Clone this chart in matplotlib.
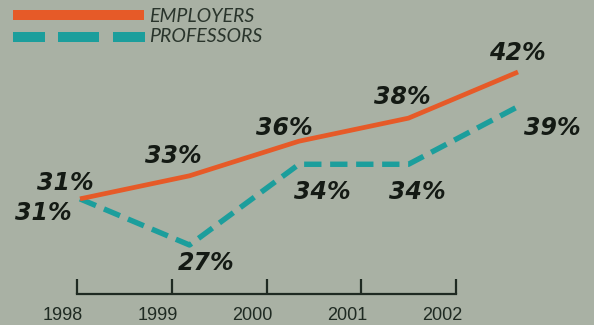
import matplotlib
matplotlib.use("Agg")
import matplotlib.pyplot as plt
from matplotlib.lines import Line2D
from matplotlib.transforms import ScaledTranslation

# data
years = [1998, 1999, 2000, 2001, 2002]
employers = [31, 33, 36, 38, 42]
professors = [31, 27, 34, 34, 39]
series_names = ["EMPLOYERS", "PROFESSORS"]

BG = "#a9b1a4"
ORANGE = "#e65a28"
TEAL = "#1c9e9c"
INK = "#141a14"
AXIS_INK = "#1f2a22"

# label offsets (pixels) from each point to the label centre
emp_offsets = [(-15, 16), (-16, 20), (-15, 13), (-6, 21), (-1, 19)]
prof_offsets = [(-37, -14), (17, -18), (23, -28), (9, -28), (34, -21)]

W, H = 594, 325
fig = plt.figure(figsize=(W / 100, H / 100), dpi=100, facecolor=BG)

# main plotting area
ax = fig.add_axes([80 / W, 80 / H, 438 / W, 173 / H])
ax.set_xlim(years[0], years[-1])
ax.set_ylim(27, 42)
ax.axis("off")

ax.plot(years, employers, color=ORANGE, lw=3.4, clip_on=False,
        solid_joinstyle="miter", solid_capstyle="butt", zorder=3)
ax.plot(years, professors, color=TEAL, lw=3.9, clip_on=False,
        dashes=(3.2, 1.6), dash_capstyle="butt", zorder=2)

label_font = dict(family="DejaVu Sans", weight="bold", style="italic",
                  size=17, color=INK, ha="center", va="center")
for x, v, off in zip(years, employers, emp_offsets):
    ax.annotate(f"{v}%", (x, v), xytext=off, textcoords="offset pixels",
                annotation_clip=False, **label_font)
for x, v, off in zip(years, professors, prof_offsets):
    ax.annotate(f"{v}%", (x, v), xytext=off, textcoords="offset pixels",
                annotation_clip=False, **label_font)

# year axis sits a little offset from the data points, as in the original
tax = fig.add_axes([77 / W, 31 / H, 379 / W, 0.05])
tax.set_xlim(years[0], years[-1])
tax.patch.set_visible(False)
for side in ["top", "left", "right"]:
    tax.spines[side].set_visible(False)
tax.spines["bottom"].set_color(AXIS_INK)
tax.spines["bottom"].set_linewidth(1.6)
tax.set_yticks([])
tax.set_xticks(years)
tax.set_xticklabels([str(y) for y in years], family="Liberation Sans",
                    fontsize=13, color=AXIS_INK)
tax.tick_params(axis="x", direction="in", length=11, width=1.6,
                color=AXIS_INK, pad=9)
for lab in tax.get_xticklabels():
    lab.set_transform(lab.get_transform() + ScaledTranslation(-0.14, 0, fig.dpi_scale_trans))

# legend drawn by hand: long thick swatches
def px(x, y):
    return x / W, 1 - y / H

fig.add_artist(Line2D([px(13, 15)[0], px(144, 15)[0]], [px(13, 15)[1]] * 2,
                      color=ORANGE, lw=7.2, solid_capstyle="butt"))
fig.add_artist(Line2D([px(13, 37)[0], px(145, 37)[0]], [px(13, 37)[1]] * 2,
                      color=TEAL, lw=7.2, dashes=(3.2, 1.3, 4.1, 1.4),
                      dash_capstyle="butt"))
for name, ypx in zip(series_names, [17, 36]):
    fig.text(*px(149, ypx), name, family="Lato", style="italic",
             fontsize=14, color="#2a352c", ha="left", va="center")

fig.savefig("out.png", dpi=100, facecolor=BG)
